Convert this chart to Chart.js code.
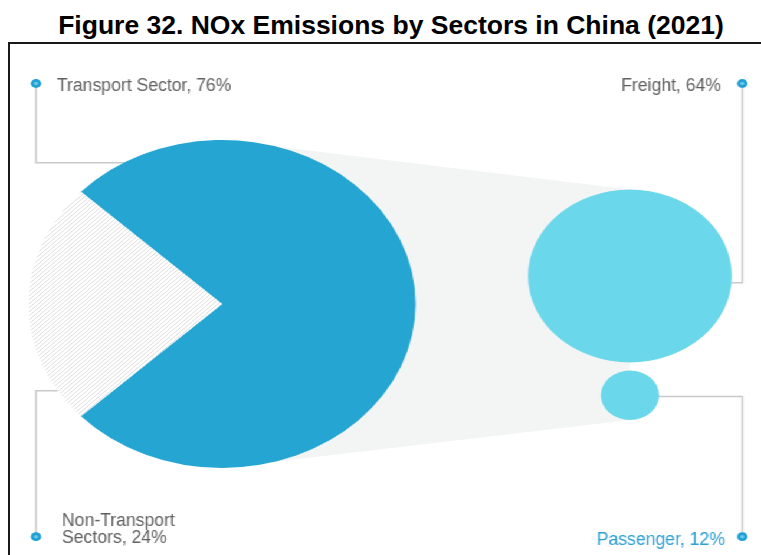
<!DOCTYPE html>
<html>
<head>
<meta charset="utf-8">
<script src="https://cdn.jsdelivr.net/npm/chart.js@4.4.1/dist/chart.umd.min.js"></script>
<style>
    body { margin: 0; background: #fff; width: 761px; height: 555px; overflow: hidden; position: relative; }
    #title {
        position: absolute; left: 0; top: 10px; width: 782px;
        text-align: center; line-height: 30px;
        font: bold 26.5px "Liberation Sans", Arial, sans-serif; color: #000;
    }
    #frame {
        position: absolute; left: 8px; top: 42px; width: 800px; height: 600px;
        border: 2px solid #1a1a1a;
    }
    #wrap { position: absolute; left: 10px; top: 44px; width: 636px; height: 511px; transform-origin: 0 0; }
    #wrap canvas { position: absolute; left: 0; top: 0; }
</style>
</head>
<body>
<div id="title">Figure 32. NOx Emissions by Sectors in China (2021)</div>
<div id="frame"></div>
<div id="wrap">
    <canvas id="subChart" width="636" height="511"></canvas>
    <canvas id="sectorChart" width="636" height="511"></canvas>
</div>
<script>
// 数据
const sectorNames = ['Transport Sector', 'Non-Transport Sectors'];
const sectorShares = [76, 24];
const subNames = ['Freight', 'Passenger'];
const subShares = [64, 12];

// 原图横向拉伸
const STRETCH = 1.18;
const subRadius = [86.4, 24.7];
const blue = '#24a5d2';
const lightBlue = '#6bd7eb';
const dotBlue = '#1f9fd4';
const lineGray = '#c9c9c9';
const textGray = '#606060';

document.getElementById('wrap').style.transform = 'scaleX(' + STRETCH + ')';

// 斜线填充
function makeHatch() {
    const c = document.createElement('canvas');
    c.width = 4; c.height = 4;
    const p = c.getContext('2d');
    p.fillStyle = '#ffffff';
    p.fillRect(0, 0, 4, 4);
    p.strokeStyle = '#dedede';
    p.lineWidth = 1;
    p.beginPath();
    p.moveTo(0, 4); p.lineTo(4, 0);
    p.moveTo(-1, 1); p.lineTo(1, -1);
    p.moveTo(3, 5); p.lineTo(5, 3);
    p.stroke();
    return p.createPattern(c, 'repeat');
}

function drawLabel(ctx, text, x, y, align, color) {
    ctx.save();
    ctx.translate(x, y);
    ctx.scale(1 / STRETCH, 1);
    ctx.font = '17.6px "Liberation Sans", Arial, sans-serif';
    ctx.fillStyle = color;
    ctx.textAlign = align;
    ctx.textBaseline = 'alphabetic';
    text.split('\n').forEach((line, i) => ctx.fillText(line, 0, i * 17));
    ctx.restore();
}

function drawDot(ctx, x, y) {
    ctx.save();
    ctx.beginPath();
    ctx.arc(x, y, 4.4, 0, Math.PI * 2);
    ctx.fillStyle = dotBlue;
    ctx.fill();
    ctx.beginPath();
    ctx.arc(x, y, 1.8, 0, Math.PI * 2);
    ctx.fillStyle = '#6cc8ec';
    ctx.fill();
    ctx.restore();
}

function polyline(ctx, pts) {
    ctx.beginPath();
    ctx.moveTo(pts[0][0], pts[0][1]);
    pts.slice(1).forEach(p => ctx.lineTo(p[0], p[1]));
    ctx.stroke();
}

// 主饼图（交通 vs 非交通）
const sectorChart = new Chart(document.getElementById('sectorChart'), {
    type: 'pie',
    data: {
        labels: sectorNames,
        datasets: [{
            data: sectorShares,
            backgroundColor: [blue, makeHatch()],
            borderWidth: 0,
            hoverOffset: 0,
            offset: 0
        }]
    },
    options: {
        responsive: false,
        animation: false,
        events: [],
        rotation: 270 + sectorShares[1] * 1.8,
        layout: { autoPadding: false, padding: { left: 15.7, right: 292.3, top: 96, bottom: 87 } },
        plugins: { legend: { display: false }, tooltip: { enabled: false } }
    }
});

// 连接区域、引线和标签
const calloutPlugin = {
    id: 'callouts',
    beforeDatasetsDraw(chart) {
        const ctx = chart.ctx;
        const pie = sectorChart.getDatasetMeta(0).data[0];
        const cx = pie.x, cy = pie.y, r = pie.outerRadius;
        const subs = chart.getDatasetMeta(0).data;
        const fr = subs[0], ps = subs[1];
        const frR = fr.options.radius, psR = ps.options.radius;

        ctx.save();
        // 浅灰色梯形
        ctx.fillStyle = '#f3f5f5';
        ctx.beginPath();
        ctx.moveTo(cx, cy - r);
        ctx.lineTo(fr.x, fr.y - frR);
        ctx.lineTo(ps.x, ps.y + psR);
        ctx.lineTo(cx, cy + r);
        ctx.closePath();
        ctx.fill();

        ctx.strokeStyle = lineGray;
        ctx.lineWidth = 1.5;
        const leftX = 22;
        const rightX = 620.6;
        const topDotY = 39.5;
        const bottomDotY = 492.7;

        // 交通
        const tY = cy - 141.3;
        polyline(ctx, [[leftX, topDotY], [leftX, tY], [cx - Math.sqrt(r * r - (tY - cy) ** 2), tY]]);
        // 非交通
        const nY = cy + 86.7;
        polyline(ctx, [[leftX, bottomDotY], [leftX, nY], [cx - Math.sqrt(r * r - (nY - cy) ** 2), nY]]);
        // 货运
        const fY = fr.y + 6.7;
        polyline(ctx, [[rightX, topDotY], [rightX, fY], [fr.x + Math.sqrt(frR * frR - (fY - fr.y) ** 2), fY]]);
        // 客运
        const pY = ps.y + 1.2;
        polyline(ctx, [[ps.x + Math.sqrt(psR * psR - (pY - ps.y) ** 2), pY], [rightX, pY], [rightX, bottomDotY]]);

        [[leftX, topDotY], [leftX, bottomDotY], [rightX, topDotY], [rightX, bottomDotY]]
            .forEach(d => drawDot(ctx, d[0], d[1]));

        drawLabel(ctx, sectorNames[0] + ', ' + sectorShares[0] + '%', 39.8, 46.7, 'left', textGray);
        drawLabel(ctx, (sectorNames[1] + ', ' + sectorShares[1] + '%').replace(' ', '\n'), 44.1, 482, 'left', textGray);
        drawLabel(ctx, subNames[0] + ', ' + subShares[0] + '%', 602.5, 46.7, 'right', textGray);
        drawLabel(ctx, subNames[1] + ', ' + subShares[1] + '%', 605.9, 501, 'right', '#2a9fd2');
        ctx.restore();
    }
};

// 细分气泡（货运 / 客运）
const subChart = new Chart(document.getElementById('subChart'), {
    type: 'bubble',
    data: {
        datasets: [{
            data: subNames.map((name, i) => ({ x: 0, y: name, share: subShares[i] })),
            backgroundColor: lightBlue,
            borderWidth: 0,
            radius: ctx => subRadius[ctx.dataIndex],
            clip: false
        }]
    },
    options: {
        responsive: false,
        animation: false,
        events: [],
        layout: { autoPadding: false, padding: { left: 425.4, right: 10.6, top: 232, bottom: 159.7 } },
        scales: {
            x: { type: 'linear', min: -1, max: 1, display: false },
            y: { type: 'category', labels: subNames, offset: false, display: false }
        },
        plugins: { legend: { display: false }, tooltip: { enabled: false } }
    },
    plugins: [calloutPlugin]
});
</script>
</body>
</html>
